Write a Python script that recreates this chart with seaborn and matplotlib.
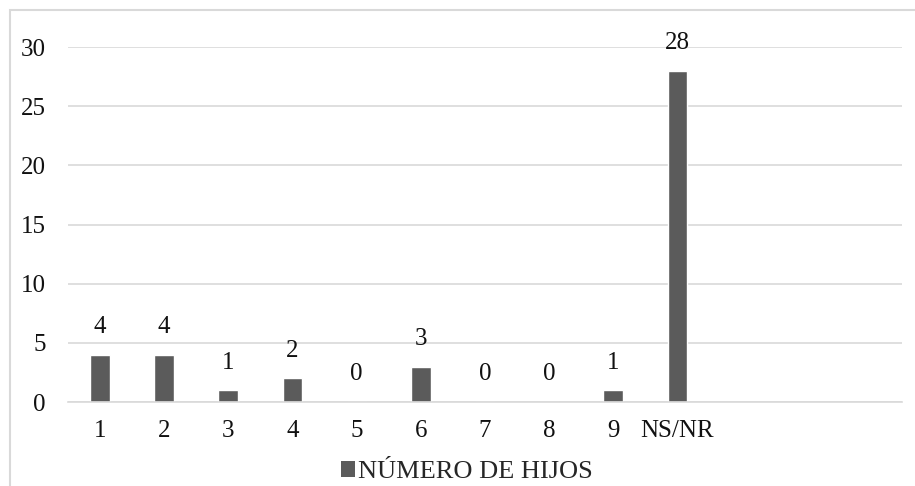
import pandas as pd
import matplotlib.pyplot as plt
import seaborn as sns
from matplotlib.patches import Rectangle, Patch

# values
categories = ['1', '2', '3', '4', '5', '6', '7', '8', '9', 'NS/NR']
counts = [4, 4, 1, 2, 0, 3, 0, 0, 1, 28]
series_name = 'NÚMERO DE HIJOS'
y_ticks = [0, 5, 10, 15, 20, 25, 30]

df = pd.DataFrame({'categoria': categories, 'valor': counts})

sns.set_theme(style='white')
plt.rcParams['font.family'] = ['Liberation Serif', 'DejaVu Serif']

fig = plt.figure(figsize=(9.15, 4.86), dpi=100)
ax = fig.add_axes([68 / 915, 1 - 402 / 486, (902 - 68) / 915, (402 - 47) / 486])

bar_color = '#5b5b5b'
sns.barplot(data=df, x='categoria', y='valor', color=bar_color,
            width=0.31, saturation=1, ax=ax)

# Excel leaves room for three empty categories at the right
ax.set_xlim(-0.5, 12.5)
ax.set_ylim(0, 30)
ax.set_yticks(y_ticks)

ax.yaxis.grid(True, color='#d9d9d9', linewidth=1.2)
ax.set_axisbelow(True)
for side in ['top', 'right', 'left']:
    ax.spines[side].set_visible(False)
ax.spines['bottom'].set_color('#d9d9d9')
ax.spines['bottom'].set_linewidth(1.2)

ax.tick_params(axis='both', length=0, labelsize=18, colors='#111111')
ax.tick_params(axis='y', pad=16)
ax.tick_params(axis='x', pad=13)
ax.set_xlabel('')
ax.set_ylabel('')

ax.bar_label(ax.containers[0], labels=[str(v) for v in counts],
             padding=12, fontsize=18, color='#111111')

handle = Patch(facecolor=bar_color, edgecolor='none')
fig.legend([handle], [series_name], loc='center',
           bbox_to_anchor=(467 / 915, 1 - 472 / 486), frameon=False,
           fontsize=19, handlelength=0.55, handleheight=0.55,
           handletextpad=0.12, borderpad=0)

# light outer frame of the chart area (cut off at right and bottom)
fig.patches.append(Rectangle((10 / 915, -0.2), 1.2, 1.2 - 10 / 486,
                             transform=fig.transFigure, fill=False,
                             edgecolor='#d9d9d9', linewidth=1.5))

fig.savefig('out.png', dpi=100)
